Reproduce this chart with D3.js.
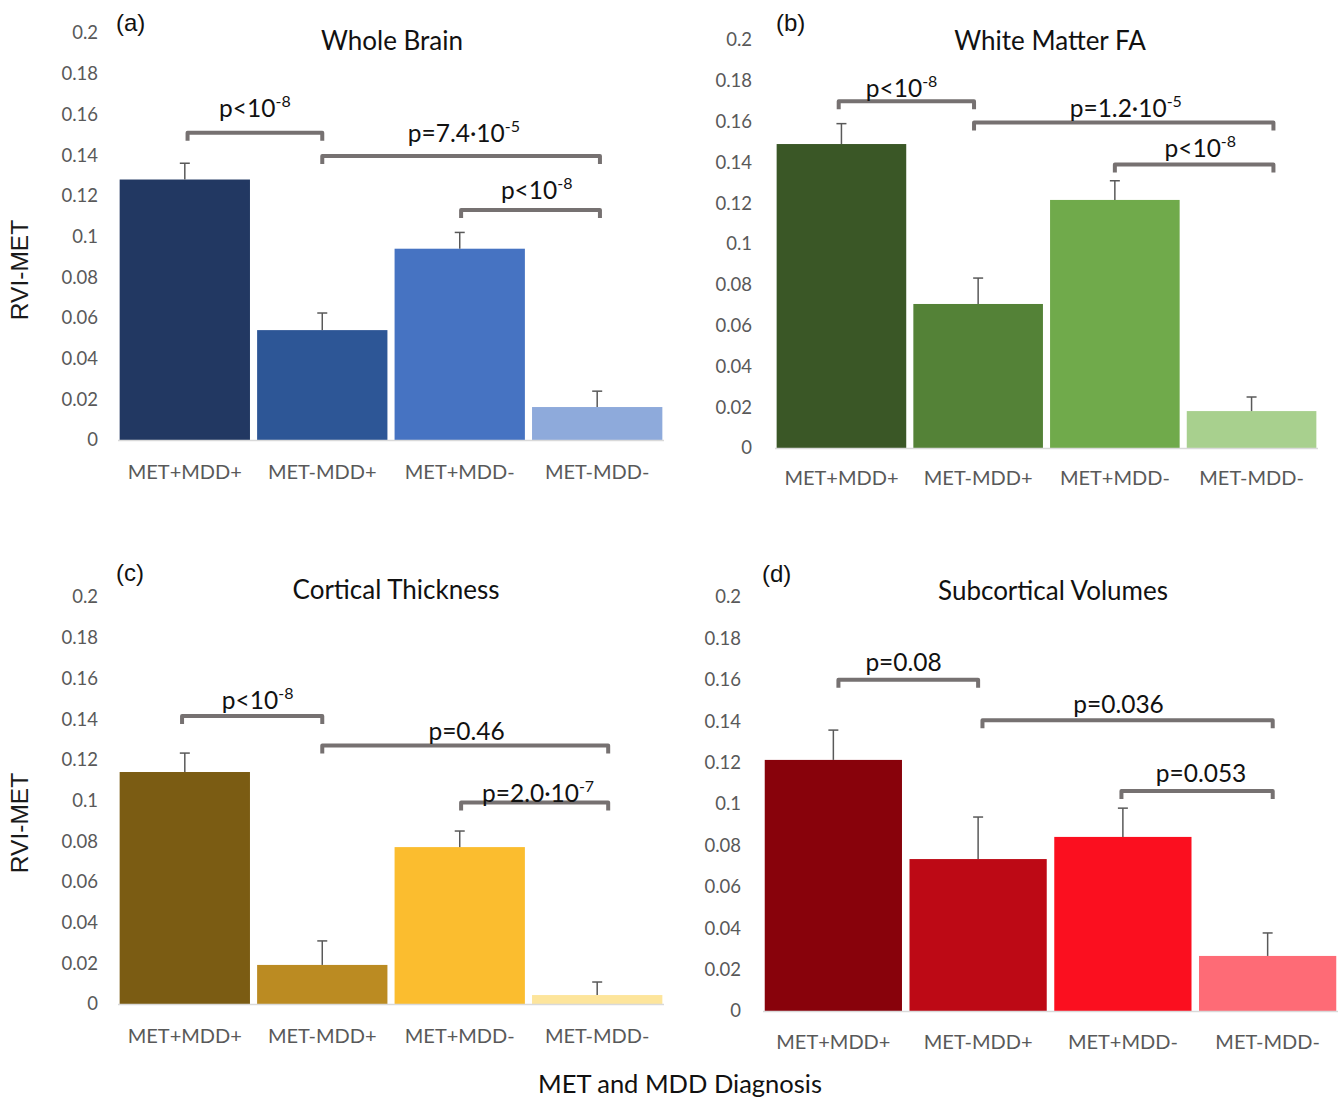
<!DOCTYPE html>
<html>
<head>
<meta charset="utf-8">
<script src="https://cdn.jsdelivr.net/npm/d3@7"></script>
<style>
  html, body { margin: 0; padding: 0; background: #fff; }
  svg { display: block; }
</style>
</head>
<body>
<svg id="chart" width="1340" height="1100"></svg>
<script>
// ---------------- DATA ----------------
const categories = ["MET+MDD+", "MET-MDD+", "MET+MDD-", "MET-MDD-"];
const yTicks = [0, 0.02, 0.04, 0.06, 0.08, 0.1, 0.12, 0.14, 0.16, 0.18, 0.2];
const yTickLabels = ["0", "0.02", "0.04", "0.06", "0.08", "0.1", "0.12", "0.14", "0.16", "0.18", "0.2"];

const panelLetters = ["(a)", "(b)", "(c)", "(d)"];
const panelTitles = ["Whole Brain", "White Matter FA", "Cortical Thickness", "Subcortical Volumes"];

const valuesWholeBrain = [0.128, 0.054, 0.094, 0.0162];
const errTopWholeBrain = [0.136, 0.0624, 0.102, 0.024];
const valuesWhiteMatter = [0.149, 0.0706, 0.1216, 0.0181];
const errTopWhiteMatter = [0.159, 0.0833, 0.131, 0.025];
const valuesCortical = [0.114, 0.0192, 0.0771, 0.0044];
const errTopCortical = [0.1233, 0.031, 0.085, 0.0108];
const valuesSubcortical = [0.1213, 0.0734, 0.0841, 0.0266];
const errTopSubcortical = [0.1357, 0.0937, 0.098, 0.0377];

const colorsWholeBrain = ["#223862", "#2d5696", "#4673c2", "#8eaadb"];
const colorsWhiteMatter = ["#3a5726", "#548237", "#70aa4b", "#a8d08e"];
const colorsCortical = ["#7b5c13", "#bb8b22", "#fbbd2f", "#fde59c"];
const colorsSubcortical = ["#88020b", "#bd0915", "#fb0f1f", "#fe6b76"];

// significance brackets: from/to/labelAt in category-index units; level/labelLevel in data units
const bracketsWholeBrain = [
  { from: 0.02, to: 1.0, level: 0.151, labelAt: 0.51, labelLevel: 0.1587, text: "p<10", sup: "-8" },
  { from: 1.0, to: 3.02, level: 0.1396, labelAt: 2.03, labelLevel: 0.1464, text: "p=7.4·10", sup: "-5" },
  { from: 2.01, to: 3.02, level: 0.113, labelAt: 2.56, labelLevel: 0.1184, text: "p<10", sup: "-8" }
];
const bracketsWhiteMatter = [
  { from: -0.02, to: 0.97, level: 0.170, labelAt: 0.44, labelLevel: 0.1721, text: "p<10", sup: "-8" },
  { from: 0.97, to: 3.16, level: 0.1596, labelAt: 2.08, labelLevel: 0.1623, text: "p=1.2·10", sup: "-5" },
  { from: 2.0, to: 3.16, level: 0.139, labelAt: 2.625, labelLevel: 0.1426, text: "p<10", sup: "-8" }
];
const bracketsCortical = [
  { from: -0.02, to: 1.0, level: 0.1415, labelAt: 0.53, labelLevel: 0.145, text: "p<10", sup: "-8" },
  { from: 1.0, to: 3.08, level: 0.127, labelAt: 2.05, labelLevel: 0.1297, text: "p=0.46", sup: "" },
  { from: 2.01, to: 3.08, level: 0.099, labelAt: 2.57, labelLevel: 0.0993, text: "p=2.0·10", sup: "-7" }
];
const bracketsSubcortical = [
  { from: 0.035, to: 1.0, level: 0.160, labelAt: 0.485, labelLevel: 0.1643, text: "p=0.08", sup: "" },
  { from: 1.03, to: 3.035, level: 0.1405, labelAt: 1.97, labelLevel: 0.144, text: "p=0.036", sup: "" },
  { from: 1.99, to: 3.035, level: 0.1063, labelAt: 2.54, labelLevel: 0.1106, text: "p=0.053", sup: "" }
];

const yAxisTitle = "RVI-MET";
const xAxisTitle = "MET and MDD Diagnosis";

// ---------------- LAYOUT ----------------
const panels = [
  { values: valuesWholeBrain, errs: errTopWholeBrain, colors: colorsWholeBrain, brackets: bracketsWholeBrain,
    x0: 118, x1: 664, yBottom: 440, yTop: 33, tickX: 98, catY: 472, titleX: 392, titleY: 43, letterX: 116, letterY: 25, yLabel: true, yLabelY: 270 },
  { values: valuesWhiteMatter, errs: errTopWhiteMatter, colors: colorsWhiteMatter, brackets: bracketsWhiteMatter,
    x0: 775, x1: 1318, yBottom: 448, yTop: 40, tickX: 752, catY: 478, titleX: 1050, titleY: 43, letterX: 776, letterY: 25, yLabel: false },
  { values: valuesCortical, errs: errTopCortical, colors: colorsCortical, brackets: bracketsCortical,
    x0: 118, x1: 664, yBottom: 1004, yTop: 597, tickX: 98, catY: 1036, titleX: 396, titleY: 592, letterX: 116, letterY: 575, yLabel: true, yLabelY: 823 },
  { values: valuesSubcortical, errs: errTopSubcortical, colors: colorsSubcortical, brackets: bracketsSubcortical,
    x0: 763, x1: 1338, yBottom: 1011, yTop: 597, tickX: 741, catY: 1042, titleX: 1053, titleY: 593, letterX: 762, letterY: 576, yLabel: false }
];

const svg = d3.select("#chart");
const FONT = "Lato, 'Open Sans', sans-serif";

panels.forEach((p, pi) => {
  const g = svg.append("g");
  const x = d3.scaleBand().domain(categories).range([p.x0, p.x1]).paddingInner(0.052).paddingOuter(0.012);
  const y = d3.scaleLinear().domain([0, 0.2]).range([p.yBottom, p.yTop]);
  const cx = v => {
    const i = Math.max(0, Math.min(categories.length - 1, Math.round(v)));
    return x(categories[i]) + x.bandwidth() / 2 + (v - i) * x.step();
  };

  // y tick labels via d3 axis (no lines)
  const yAxis = d3.axisLeft(y).tickValues(yTicks).tickSize(0).tickPadding(0)
    .tickFormat((d, i) => yTickLabels[i]);
  const ya = g.append("g").attr("transform", `translate(${p.tickX},0)`).call(yAxis);
  ya.select(".domain").remove();
  ya.selectAll("text").attr("font-family", FONT).attr("font-size", 18.5).attr("fill", "#595959");

  // bars
  g.selectAll("rect.bar").data(p.values).enter().append("rect")
    .attr("class", "bar")
    .attr("x", (d, i) => x(categories[i]))
    .attr("width", x.bandwidth())
    .attr("y", d => y(d))
    .attr("height", d => y(0) - y(d))
    .attr("fill", (d, i) => p.colors[i]);

  // baseline
  g.append("line").attr("x1", p.x0).attr("x2", p.x1).attr("y1", y(0) + 0.5).attr("y2", y(0) + 0.5)
    .attr("stroke", "#d9d9d9").attr("stroke-width", 1.5);

  // error bars (upper only)
  p.errs.forEach((e, i) => {
    const c = x(categories[i]) + x.bandwidth() / 2;
    g.append("line").attr("x1", c).attr("x2", c).attr("y1", y(p.values[i])).attr("y2", y(e))
      .attr("stroke", "#595959").attr("stroke-width", 1.5);
    g.append("line").attr("x1", c - 5).attr("x2", c + 5).attr("y1", y(e)).attr("y2", y(e))
      .attr("stroke", "#595959").attr("stroke-width", 1.5);
  });

  // category labels via bottom axis
  const xAxis = d3.axisBottom(x).tickSize(0).tickPadding(0);
  const xa = g.append("g").attr("transform", `translate(0,${p.catY})`).call(xAxis);
  xa.select(".domain").remove();
  xa.selectAll("text").attr("font-family", FONT).attr("font-size", 20).attr("fill", "#595959")
    .attr("dy", "0.35em");

  // brackets
  p.brackets.forEach(b => {
    const xa1 = cx(b.from);
    const xa2 = cx(b.to);
    const yb = y(b.level);
    g.append("path")
      .attr("d", `M${xa1},${yb + 8} L${xa1},${yb} L${xa2},${yb} L${xa2},${yb + 8}`)
      .attr("fill", "none").attr("stroke", "#767171").attr("stroke-width", 4)
      .attr("stroke-linejoin", "round").attr("stroke-linecap", "butt");
    const t = g.append("text")
      .attr("x", cx(b.labelAt)).attr("y", y(b.labelLevel))
      .attr("text-anchor", "middle")
      .attr("font-family", FONT).attr("font-size", 24.5).attr("fill", "#111");
    t.append("tspan").text(b.text);
    if (b.sup) {
      t.append("tspan").attr("dy", -10).attr("font-size", 16).text(b.sup);
    }
  });

  // title
  g.append("text").attr("x", p.titleX).attr("y", p.titleY).attr("text-anchor", "middle")
    .attr("dominant-baseline", "middle")
    .attr("font-family", FONT).attr("font-size", 26).attr("fill", "#111").text(panelTitles[pi]);

  // panel letter
  g.append("text").attr("x", p.letterX).attr("y", p.letterY)
    .attr("dominant-baseline", "middle")
    .attr("font-family", "'Liberation Sans', Arial, sans-serif").attr("font-size", 24).attr("fill", "#111")
    .text(panelLetters[pi]);

  // y axis title
  if (p.yLabel) {
    g.append("text")
      .attr("transform", `translate(22,${p.yLabelY}) rotate(-90)`)
      .attr("text-anchor", "middle").attr("dominant-baseline", "middle")
      .attr("font-family", "'Liberation Sans', Arial, sans-serif").attr("font-size", 24.5).attr("fill", "#1a1a1a")
      .text(yAxisTitle);
  }
});

// overall x axis title
svg.append("text").attr("x", 680).attr("y", 1087).attr("text-anchor", "middle")
  .attr("dominant-baseline", "middle")
  .attr("font-family", FONT).attr("font-size", 25.5).attr("fill", "#111").text(xAxisTitle);
</script>
</body>
</html>
